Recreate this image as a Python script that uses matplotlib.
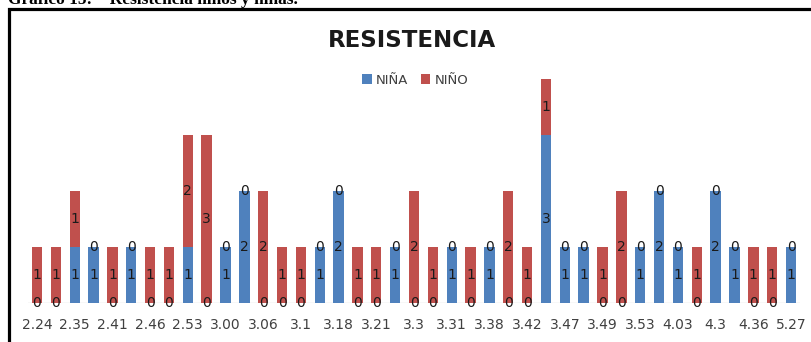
import numpy as np
import matplotlib
matplotlib.use("Agg")
import matplotlib.pyplot as plt
from matplotlib.patches import Rectangle

# datos: cantidad de niñas / niños por valor de resistencia
etiquetas = ['2.24', '', '2.35', '', '2.41', '', '2.46', '', '2.53', '', '3.00', '',
             '3.06', '', '3.1', '', '3.18', '', '3.21', '', '3.3', '', '3.31', '',
             '3.38', '', '3.42', '', '3.47', '', '3.49', '', '3.53', '', '4.03', '',
             '4.3', '', '4.36', '', '5.27']
nina = [0, 0, 1, 1, 0, 1, 0, 0, 1, 0, 1, 2, 0, 0, 0, 1, 2, 0, 0, 1, 0,
        0, 1, 0, 1, 0, 0, 3, 1, 1, 0, 0, 1, 2, 1, 0, 2, 1, 0, 0, 1]
nino = [1, 1, 1, 0, 1, 0, 1, 1, 2, 3, 0, 0, 2, 1, 1, 0, 0, 1, 1, 0, 2,
        1, 0, 1, 0, 2, 1, 1, 0, 0, 1, 2, 0, 0, 0, 1, 0, 0, 1, 1, 0]

azul = '#4F81BD'
rojo = '#C0504D'

fig = plt.figure(figsize=(8.11, 3.42), dpi=100)
ax = fig.add_axes([0.034, 0.114, 0.953, 0.737])

x = np.arange(len(etiquetas))
b1 = ax.bar(x, nina, width=0.55, color=azul, label='NIÑA', zorder=2)
b2 = ax.bar(x, nino, width=0.55, bottom=nina, color=rojo, label='NIÑO', zorder=2)
ax.bar_label(b1, label_type='center', fontsize=10, color='#1a1a1a')
ax.bar_label(b2, label_type='center', fontsize=10, color='#1a1a1a')

ax.axhline(0, color='#D9D9D9', lw=1, zorder=1)
ax.set_xlim(-0.5, len(etiquetas) - 0.5)
ax.set_ylim(0, 4.5)
ax.set_xticks(x[::2])
ax.set_xticklabels([e for e in etiquetas if e != ''], fontsize=10, color='#404040')
ax.tick_params(axis='x', length=0, pad=11)
ax.set_yticks([])
for s in ax.spines.values():
    s.set_visible(False)

fig.text(0.508, 0.883, 'RESISTENCIA', ha='center', va='center',
         fontsize=16.5, fontweight='bold', color='#1a1a1a')
fig.legend(loc='center', bbox_to_anchor=(0.512, 0.766), ncol=2, frameon=False,
           fontsize=9.5, handlelength=0.7, handleheight=0.7, handletextpad=0.3,
           columnspacing=1.0, labelcolor='#404040')

# marco y titulo del documento
fig.patches.append(Rectangle((9 / 811, -0.1), 1.1, 1 - 9 / 342 + 0.1,
                             transform=fig.transFigure, fill=False,
                             edgecolor='black', lw=2.3))
fig.text(8 / 811, 1 - 4 / 342, 'Gráfico 15:    Resistencia niños y niñas.',
         ha='left', va='baseline', fontsize=12.5, fontweight='bold',
         family='Liberation Serif')

fig.savefig('out.png', dpi=100)
